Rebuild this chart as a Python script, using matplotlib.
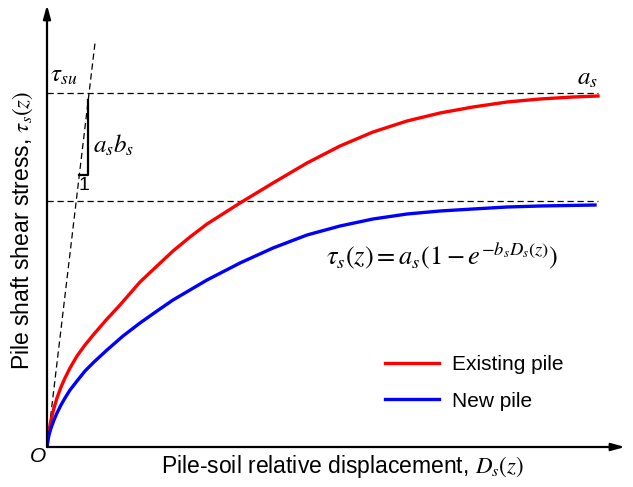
import matplotlib
matplotlib.use('Agg')
import matplotlib.pyplot as plt

plt.rcParams['font.family'] = ['Liberation Sans', 'DejaVu Sans']
plt.rcParams['mathtext.fontset'] = 'stix'

# curves (pixel-like units, origin at O)
red_x = [0, 1, 2, 4, 7, 10, 14, 18, 23, 30, 38, 47, 60, 73, 93, 110, 126, 143, 160, 193,
         226, 260, 293, 326, 360, 393, 426, 460, 493, 526, 551]
red_y = [0, 9, 16, 27, 39, 49, 60, 69, 79, 91, 102, 113, 128, 142, 165, 181, 196, 210, 223, 244,
         264, 284, 301, 315, 326, 334, 340, 345, 348, 350, 351]
blue_x = [0, 1, 2, 4, 7, 10, 14, 18, 23, 30, 38, 47, 60, 76, 93, 110, 126, 143, 160,
          193, 226, 260, 293, 326, 360, 393, 426, 460, 493, 548]
blue_y = [0, 7, 12, 19, 27, 34, 42, 49, 57, 66, 76, 85, 97, 111, 124, 136, 147, 157, 167,
          184, 199, 212, 221, 228, 233, 236, 238, 240, 241, 242]

tau_su = 354      # upper dashed level (a_s)
tau_new = 246     # lower dashed level
x_end = 551
slope_pt = (48, 404)   # end of initial tangent

fig = plt.figure(figsize=(6.33, 4.87), dpi=100)
ax = fig.add_axes([47/633, 40/487, 578/633, 442/487])
ax.set_xlim(0, 578)
ax.set_ylim(0, 442)
ax.axis('off')

# axes with arrows
arr = dict(arrowstyle='-|>,head_length=0.8,head_width=0.22', lw=1.6, color='black',
           shrinkA=0, shrinkB=0)
ax.annotate('', xy=(578, 0), xytext=(0, 0), arrowprops=arr, annotation_clip=False)
ax.annotate('', xy=(0, 442), xytext=(0, 0), arrowprops=arr, annotation_clip=False)

# dashed guide lines
ax.plot([0, x_end], [tau_su, tau_su], 'k--', lw=0.9, dashes=(5, 3))
ax.plot([0, x_end], [tau_new, tau_new], 'k--', lw=0.9, dashes=(5, 3))
ax.plot([0, slope_pt[0]], [0, slope_pt[1]], 'k--', lw=0.9, dashes=(5, 3))

# slope triangle
ax.plot([41, 41, 32.4], [347, 272, 272], 'k-', lw=1.6)

ax.plot(red_x, red_y, color='#ff0000', lw=2.4, label='Existing pile')
ax.plot(blue_x, blue_y, color='#0000ff', lw=2.4, label='New pile')

ax.text(3, 372, r'$\tau_{su}$', fontsize=18, va='center', ha='left')
ax.text(46, 302, r'$a_s b_s$', fontsize=18, va='center', ha='left')
ax.text(37, 262, '1', fontsize=14, va='center', ha='center')
ax.text(551, 369, r'$a_s$', fontsize=18, va='center', ha='right')
ax.text(279, 192, r'$\tau_s(z) = a_s\left(1 - e^{-b_s D_s(z)}\right)$', fontsize=19,
        va='center', ha='left')
ax.text(-9, -10, 'O', fontsize=15, style='italic', va='center', ha='center')

ax.text(295, -19, r'Pile-soil relative displacement, $D_s(z)$', fontsize=16.5,
        ha='center', va='center')
ax.text(-25, 217, r'Pile shaft shear stress, $\tau_s(z)$', fontsize=16.5,
        ha='center', va='center', rotation=90)

ax.legend(loc='upper left', bbox_to_anchor=(385/633, 1 - 355/487),
          bbox_transform=fig.transFigure, frameon=False, fontsize=15,
          handlelength=2.6, handletextpad=0.6, labelspacing=0.85,
          borderpad=0, borderaxespad=0)

fig.savefig('out.png', dpi=100)
